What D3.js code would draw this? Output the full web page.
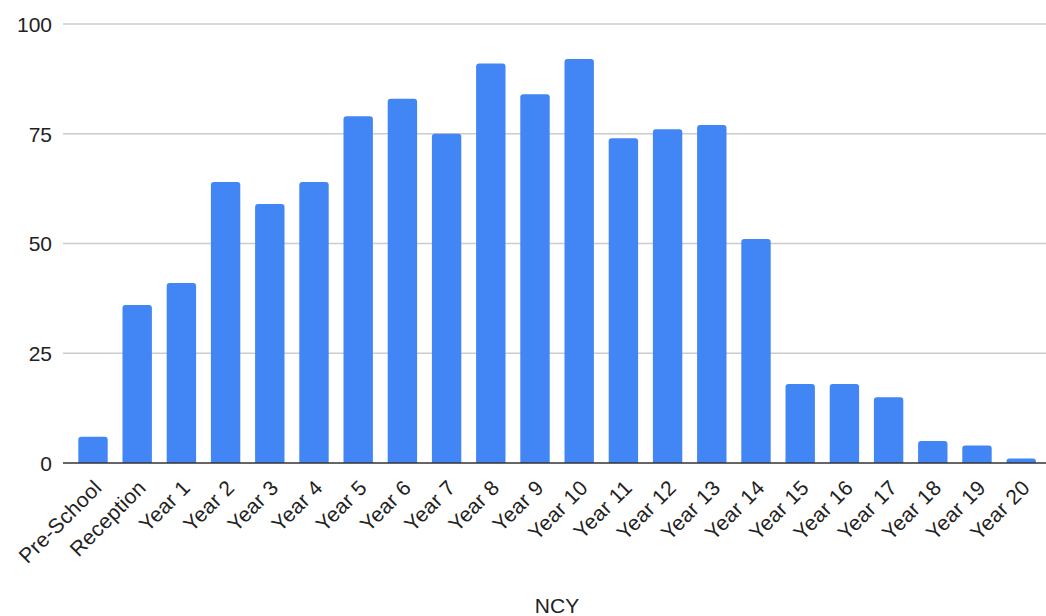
<!DOCTYPE html>
<html>
<head>
<meta charset="utf-8">
<script src="https://cdn.jsdelivr.net/npm/d3@7"></script>
<style>
  html, body { margin: 0; padding: 0; background: #fff; }
  svg { display: block; }
  text { font-family: "Liberation Sans", Arial, sans-serif; fill: #222; }
</style>
</head>
<body>
<svg id="chart" width="1046" height="616"></svg>
<script>
const categories = ["Pre-School", "Reception", "Year 1", "Year 2", "Year 3", "Year 4", "Year 5", "Year 6", "Year 7", "Year 8", "Year 9", "Year 10", "Year 11", "Year 12", "Year 13", "Year 14", "Year 15", "Year 16", "Year 17", "Year 18", "Year 19", "Year 20"];
const values = [6, 36, 41, 64, 59, 64, 79, 83, 75, 91, 84, 92, 74, 76, 77, 51, 18, 18, 15, 5, 4, 1];
const yTicks = [0, 25, 50, 75, 100];
const xTitle = "NCY";

const svg = d3.select("#chart");
const plotLeft = 63, plotRight = 1046, y0 = 463, y100 = 24;

const x = d3.scaleBand()
  .domain(categories)
  .range([70.9, 70.9 + 22 * 44.2])
  .paddingInner(0.335)
  .paddingOuter(0.1675);

const y = d3.scaleLinear().domain([0, 100]).range([y0, y100]);

// y tick labels
const yAxis = d3.axisLeft(y).tickValues(yTicks).tickSize(0).tickPadding(11);
const gy = svg.append("g").attr("transform", `translate(${plotLeft},0)`).call(yAxis);
gy.select(".domain").remove();
gy.selectAll("text").style("font-size", "21px").attr("fill", "#222").attr("dy", "0.35em");

// gridlines
svg.append("g").selectAll("line")
  .data(yTicks.filter(d => d !== 0))
  .join("line")
  .attr("x1", plotLeft).attr("x2", plotRight)
  .attr("y1", d => y(d)).attr("y2", d => y(d))
  .attr("stroke", "#cccccc").attr("stroke-width", 1.5);

// bars with rounded top corners
const r = 3;
svg.append("g").selectAll("path")
  .data(categories.map((c, i) => ({ c, v: values[i] })))
  .join("path")
  .attr("fill", "#4285f4")
  .attr("d", d => {
    const x0 = x(d.c), w = x.bandwidth();
    const top = y(d.v), bot = y(0);
    const rr = Math.min(r, (bot - top));
    return `M${x0},${bot} V${top + rr} Q${x0},${top} ${x0 + rr},${top} H${x0 + w - rr} Q${x0 + w},${top} ${x0 + w},${top + rr} V${bot} Z`;
  });

// baseline
svg.append("line")
  .attr("x1", plotLeft).attr("x2", plotRight)
  .attr("y1", y(0)).attr("y2", y(0))
  .attr("stroke", "#333").attr("stroke-width", 1.5);

// x axis labels
const xAxis = d3.axisBottom(x).tickSize(0).tickPadding(0);
const gx = svg.append("g").attr("transform", `translate(0,${y0})`).call(xAxis);
gx.select(".domain").remove();
gx.selectAll("text")
  .style("font-size", "21px")
  .style("letter-spacing", "0.3px")
  .attr("fill", "#222")
  .attr("text-anchor", "end")
  .attr("dy", "0")
  .attr("y", 0)
  .attr("transform", "translate(10,26) rotate(-45)");

// x title
svg.append("text")
  .attr("x", 557).attr("y", 613)
  .attr("text-anchor", "middle")
  .style("font-size", "21px")
  .text(xTitle);
</script>
</body>
</html>
